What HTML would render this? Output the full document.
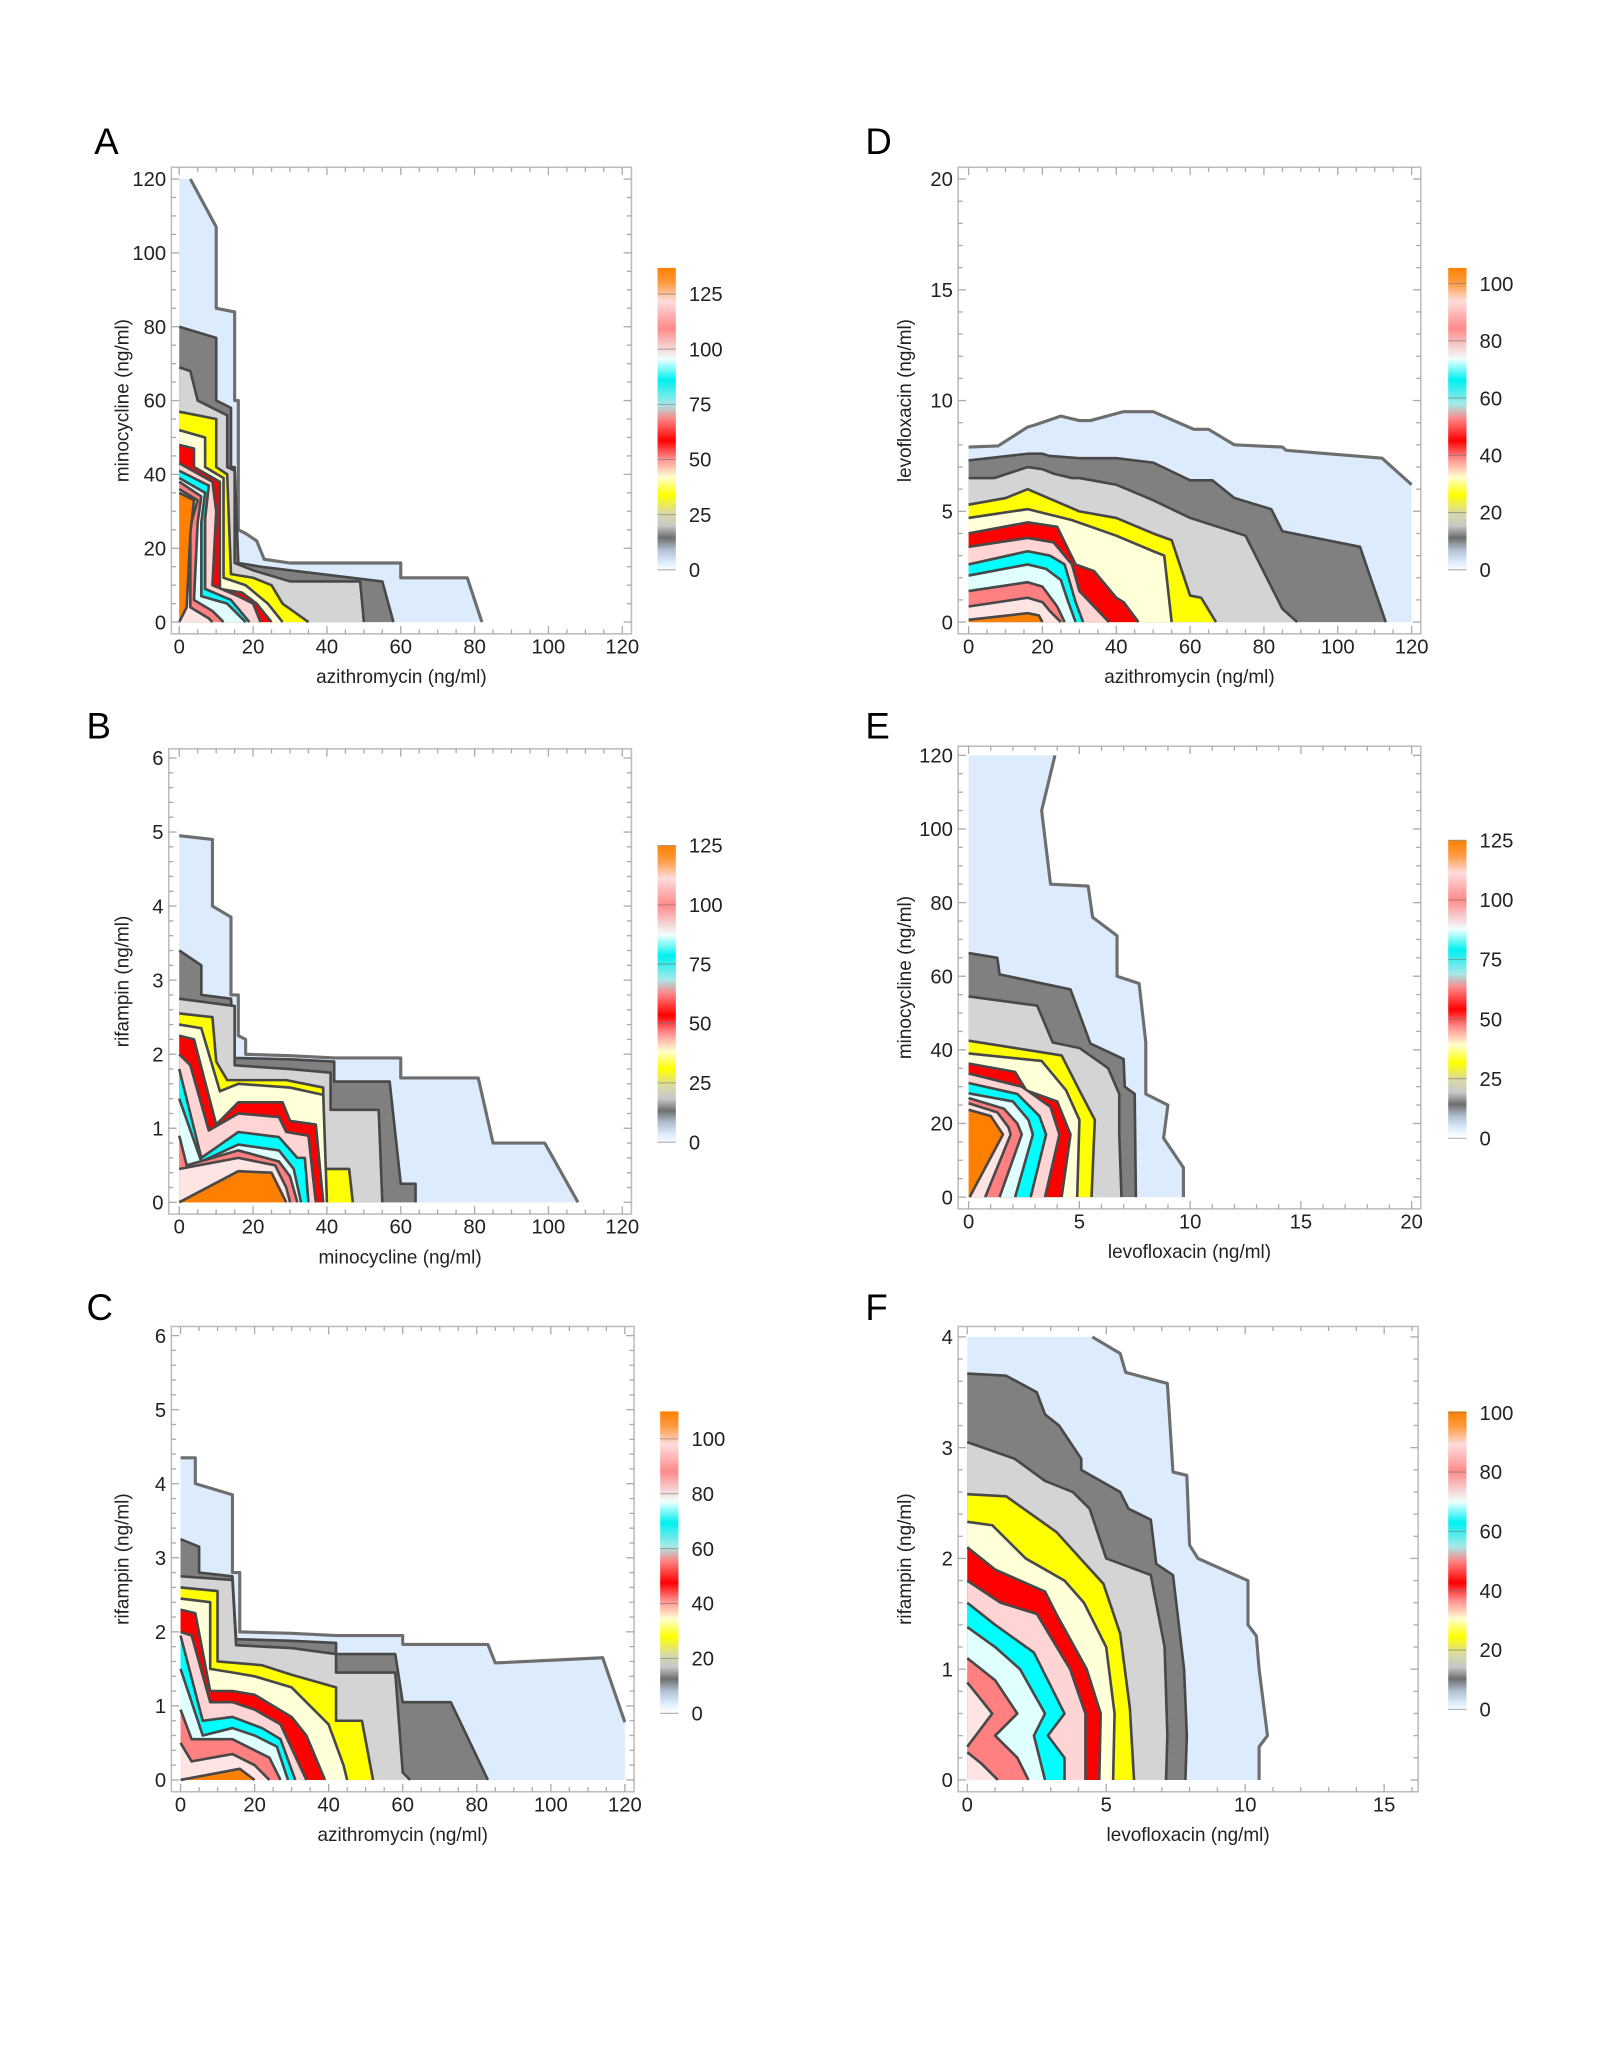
<!DOCTYPE html>
<html><head><meta charset="utf-8"><style>
html,body{margin:0;padding:0;background:#fff;}
svg{display:block;font-family:"Liberation Sans",Arial,sans-serif;}
</style></head><body>
<svg id="fig" xmlns="http://www.w3.org/2000/svg" width="1600" height="2057" viewBox="0 0 1224 1574">
<defs>
<linearGradient id="cbar" x1="0" y1="0" x2="0" y2="1">
<stop offset="0" stop-color="#ff8000"/><stop offset="0.05" stop-color="#ff9a40"/>
<stop offset="0.11" stop-color="#ffdcdc"/><stop offset="0.2" stop-color="#ff8a8a"/>
<stop offset="0.3" stop-color="#f0ffff"/><stop offset="0.37" stop-color="#00f0f0"/>
<stop offset="0.45" stop-color="#a8e8e8"/><stop offset="0.5" stop-color="#ff8080"/>
<stop offset="0.57" stop-color="#ff0000"/><stop offset="0.63" stop-color="#ff9090"/>
<stop offset="0.69" stop-color="#ffffd0"/><stop offset="0.75" stop-color="#ffff00"/>
<stop offset="0.81" stop-color="#d8d8a8"/><stop offset="0.85" stop-color="#c8c8c8"/>
<stop offset="0.89" stop-color="#6e6e6e"/><stop offset="0.93" stop-color="#b0c0d0"/>
<stop offset="0.97" stop-color="#dcecfc"/><stop offset="1" stop-color="#ffffff"/>
</linearGradient>
</defs>
</svg>
<script>
// ---- data ----
const levelColorsStd = ['#dcecfc','#808080','#d4d4d4','#ffff00','#ffffd8','#ff0000','#ffd4d4','#00ffff','#e0ffff','#ff8080','#ffe4e4','#ff8000'];
const levelColorsF = ['#dcecfc','#808080','#d4d4d4','#ffff00','#ffffd8','#ff0000','#ffd4d4','#00ffff','#e0ffff','#ff8080','#ffe4e4','#ffe4e4'];

const contoursA = [
 [[3,120],[10,107],[10,85],[15,84],[15,60],[16,60],[16,25],[18,24],[21,22],[23,17],[30,16],[60,16],[60,12],[78,12],[82,0]],
 [[0,80],[10,77],[10,60],[14,58],[14,42],[15,42],[16,16],[22,15],[30,14],[55,11],[58,0]],
 [[0,69],[3,68],[5,60],[13,56],[13,42],[15,41],[15,16],[20,14],[30,11],[49,11],[50,0]],
 [[0,57],[10,55],[10,42],[13,40],[14,13],[20,12],[25,10],[28,5],[35,0]],
 [[0,52],[7,50],[7,42],[12,39],[12,12],[18,10],[24,5],[28,0]],
 [[0,48],[4,47],[4,42],[11,38],[11,9],[17,8],[21,5],[25,0]],
 [[0,43],[9,38],[10,30],[9,10],[16,7],[20,5],[22,0]],
 [[0,41],[8,37],[7,28],[7,9],[14,6],[19,0]],
 [[0,39],[7,35],[6,27],[6,7],[13,5],[18,0]],
 [[0,38],[6,34],[5,27],[4,6],[9,3],[12,0]],
 [[0,36],[5,33],[3,26],[3,4],[8,1],[9,0]],
 [[0,35],[4,33],[3,24],[2,4],[0,0]]
];
const contoursB = [
 [[0,4.95],[9,4.9],[9,4.0],[14,3.85],[14,2.8],[16,2.8],[16,2.25],[18,2.2],[18,2.0],[30,1.98],[42,1.95],[60,1.95],[60,1.68],[81,1.68],[85,0.8],[99,0.8],[108,0]],
 [[0,3.4],[6,3.2],[6,2.8],[14,2.75],[15,1.95],[30,1.93],[42,1.9],[42,1.63],[57,1.63],[60,0.25],[64,0.25],[64,0]],
 [[0,2.75],[15,2.65],[15,1.85],[30,1.8],[41,1.75],[41,1.25],[54,1.25],[55,0]],
 [[0,2.55],[9,2.5],[10,1.9],[13,1.65],[29,1.65],[39,1.55],[39,0.45],[46,0.45],[47,0]],
 [[0,2.4],[6,2.35],[11,1.5],[16,1.6],[30,1.55],[39,1.45],[40,0]],
 [[0,2.25],[4,2.2],[10,1.05],[16,1.35],[28,1.35],[30,1.1],[37,1.05],[39,0]],
 [[0,2.0],[3,1.85],[8,0.97],[16,1.2],[27,1.15],[29,0.95],[35,0.9],[37,0]],
 [[0,1.8],[6,0.6],[16,0.95],[27,0.88],[32,0.6],[34,0.6],[35,0]],
 [[0,1.4],[6,0.55],[16,0.78],[27,0.7],[31,0.45],[33,0]],
 [[0,0.9],[2,0.5],[16,0.7],[27,0.55],[30,0.35],[32,0]],
 [[0,0.45],[16,0.6],[26,0.5],[29,0.2],[30,0]],
 [[0,0],[16,0.42],[25,0.4],[29,0]]
];
const contoursC = [
 [[0,4.35],[4,4.35],[4,4.0],[14,3.85],[14,2.8],[16,2.8],[16,2.0],[30,1.98],[42,1.95],[60,1.95],[60,1.83],[83,1.83],[85,1.58],[114,1.65],[120,0.78]],
 [[0,3.25],[5,3.15],[5,2.8],[14,2.75],[15,1.9],[30,1.88],[42,1.85],[42,1.7],[58,1.7],[60,1.05],[73,1.05],[83,0]],
 [[0,2.75],[14,2.7],[15,1.82],[30,1.78],[42,1.7],[42,1.45],[58,1.45],[60,0.1],[62,0]],
 [[0,2.6],[10,2.55],[10,1.6],[22,1.55],[30,1.42],[42,1.25],[42,0.8],[49,0.8],[52,0]],
 [[0,2.45],[8,2.4],[8,1.5],[14,1.45],[20,1.4],[30,1.25],[40,0.75],[44,0.2],[45,0]],
 [[0,2.3],[4,2.25],[8,1.2],[14,1.2],[20,1.15],[30,0.85],[34,0.6],[39,0]],
 [[0,2.0],[3,1.95],[8,1.05],[14,1.05],[20,0.95],[27,0.75],[34,0]],
 [[0,1.95],[6,0.8],[14,0.85],[22,0.7],[27,0.55],[31,0]],
 [[0,1.5],[6,0.6],[14,0.7],[20,0.6],[26,0.45],[29,0]],
 [[0,0.95],[3,0.55],[14,0.55],[20,0.4],[24,0.3],[27,0]],
 [[0,0.5],[3,0.25],[14,0.35],[20,0.2],[24,0]],
 [[0,0],[16,0.15],[20,0]]
];
const contoursD = [
 [[0,7.9],[8,7.95],[16,8.8],[18,8.9],[25,9.3],[30,9.1],[33,9.1],[42,9.5],[50,9.5],[61,8.7],[65,8.7],[72,8.0],[85,7.9],[86,7.75],[112,7.4],[120,6.2]],
 [[0,7.3],[16,7.6],[20,7.6],[22,7.5],[30,7.4],[40,7.4],[50,7.2],[60,6.4],[66,6.4],[72,5.6],[82,5.1],[85,4.1],[106,3.4],[113,0]],
 [[0,6.5],[7,6.5],[16,7.0],[20,6.9],[23,6.7],[28,6.5],[30,6.5],[40,6.2],[50,5.5],[60,4.7],[75,3.9],[85,0.6],[89,0]],
 [[0,5.3],[10,5.6],[16,6.0],[30,5.0],[40,4.7],[50,4.0],[55,3.7],[60,1.2],[63,1.1],[67,0]],
 [[0,4.7],[16,5.1],[28,4.6],[40,3.9],[50,3.2],[53,3.0],[55,0]],
 [[0,4.0],[16,4.5],[24,4.3],[29,2.6],[34,2.3],[40,1.1],[42,0.9],[46,0]],
 [[0,3.4],[16,3.8],[23,3.6],[28,2.6],[30,1.4],[38,0]],
 [[0,2.6],[16,3.2],[22,3.0],[26,2.6],[29,0.9],[31,0]],
 [[0,2.1],[16,2.6],[21,2.4],[25,1.9],[27,0.9],[29,0]],
 [[0,1.4],[16,1.8],[20,1.6],[24,0.7],[26,0]],
 [[0,0.7],[16,1.1],[20,0.9],[22,0.5],[25,0]],
 [[0,0.1],[16,0.4],[19,0.3],[20,0]]
];
const contoursE = [
 [[3.9,120],[3.3,105],[3.7,85],[5.4,84.5],[5.6,76],[6.7,71],[6.7,60],[7.7,58],[8.0,42],[8.0,28],[9.0,25],[8.8,16],[9.7,8],[9.7,0]],
 [[0,66.3],[1.3,65],[1.4,60.5],[4.6,56.4],[5.5,41.7],[7.0,37.5],[7.05,30],[7.5,28],[7.55,0]],
 [[0,54.5],[3.1,52],[3.8,42],[5.0,40.5],[6.3,35],[6.8,28],[6.8,17],[6.9,0]],
 [[0,42.5],[4.2,38.5],[5.0,29],[5.7,21],[5.55,0]],
 [[0,39],[3.3,37],[4.4,29],[5.0,21],[4.9,0]],
 [[0,36.3],[2.1,34],[2.6,29],[4.0,26],[4.6,17],[4.2,0]],
 [[0,33.6],[2.4,30],[3.7,24.5],[4.1,17],[3.45,0]],
 [[0,31],[2.2,28],[3.2,22],[3.5,17],[2.8,0]],
 [[0,28.2],[2.0,26],[2.7,21],[2.9,17],[2.1,0]],
 [[0,26.9],[1.6,24],[2.2,20],[2.4,17],[1.4,0]],
 [[0,25.5],[1.3,23],[1.8,19],[1.9,17],[0.75,0]],
 [[0,23.7],[1.0,22],[1.55,17],[0.05,0]]
];
const contoursF = [
 [[4.5,4.0],[5.5,3.85],[5.7,3.68],[7.2,3.58],[7.4,2.78],[7.9,2.75],[8.0,2.12],[8.3,2.0],[10.1,1.8],[10.1,1.4],[10.4,1.3],[10.5,1.0],[10.7,0.6],[10.8,0.4],[10.5,0.3],[10.5,0]],
 [[0,3.67],[1.4,3.65],[2.5,3.5],[2.8,3.3],[3.3,3.2],[4.1,2.9],[4.1,2.8],[5.5,2.6],[5.8,2.45],[6.6,2.35],[6.8,1.95],[7.4,1.85],[7.8,1.0],[7.9,0.4],[7.85,0]],
 [[0,3.05],[1.7,2.9],[2.8,2.7],[3.8,2.6],[4.4,2.45],[5.0,2.0],[6.6,1.85],[7.1,1.2],[7.2,0.4],[7.15,0]],
 [[0,2.58],[1.4,2.56],[3.2,2.24],[4.9,1.77],[5.5,1.32],[5.85,0.65],[6.0,0]],
 [[0,2.33],[0.9,2.3],[2.1,2.0],[3.5,1.8],[4.2,1.6],[5.0,1.2],[5.3,0.6],[5.25,0]],
 [[0,2.1],[1.0,1.9],[2.8,1.7],[3.2,1.5],[4.3,1.0],[4.8,0.6],[4.75,0]],
 [[0,1.8],[1.2,1.6],[2.5,1.5],[3.7,1.0],[4.25,0.6],[4.25,0]],
 [[0,1.6],[1.0,1.4],[2.4,1.15],[3.5,0.6],[2.9,0.4],[3.5,0.2],[3.5,0]],
 [[0,1.38],[1.0,1.2],[1.9,1.0],[2.8,0.6],[2.4,0.4],[2.8,0]],
 [[0,1.1],[1.0,0.9],[1.8,0.6],[1.0,0.4],[1.8,0.2],[2.2,0]],
 [[0,0.88],[0.9,0.6],[0,0.3]],
 [[0,0.25],[0.5,0.15],[1.1,0]]
];

const ticksX120 = [0,20,40,60,80,100,120];
const ticksY120 = [0,20,40,60,80,100,120];
const ticksY6 = [0,1,2,3,4,5,6];
const ticksY20 = [0,5,10,15,20];
const ticksX20 = [0,5,10,15,20];
const ticksX15 = [0,5,10,15];
const ticksY4 = [0,1,2,3,4];
const cbarA = [0,25,50,75,100,125];
const cbarB = [0,25,50,75,100,125];
const cbarC = [0,20,40,60,80,100];
const cbarD = [0,20,40,60,80,100];
const cbarE = [0,25,50,75,100,125];
const cbarF = [0,20,40,60,80,100];

// ---- layout (display coords in viewBox) ----
const panels = [
 {id:'a', letter:'A', lx:72, ly:118, frame:[131,128,483,485], xd:[0,120], xp:[137,476], yd:[0,120], yp:[476,137], xt:ticksX120, xm:5, yt:ticksY120, ym:5, contours:contoursA, colors:levelColorsStd, xlabel:'azithromycin (ng/ml)', ylabel:'minocycline (ng/ml)', yTitleX:98, cb:[503,205,517,437], cbv:cbarA, cbp:[436,225]},
 {id:'b', letter:'B', lx:66, ly:565, frame:[129,573,483,929], xd:[0,120], xp:[137,476], yd:[0,6], yp:[920,580], xt:ticksX120, xm:5, yt:ticksY6, ym:0.2, contours:contoursB, colors:levelColorsStd, xlabel:'minocycline (ng/ml)', ylabel:'rifampin (ng/ml)', yTitleX:98, cb:[503,647,517,875], cbv:cbarB, cbp:[874,647]},
 {id:'c', letter:'C', lx:66, ly:1010, frame:[131,1015,485,1371], xd:[0,120], xp:[138,478], yd:[0,6], yp:[1362,1022], xt:ticksX120, xm:5, yt:ticksY6, ym:0.2, contours:contoursC, colors:levelColorsStd, xlabel:'azithromycin (ng/ml)', ylabel:'rifampin (ng/ml)', yTitleX:98, cb:[505,1080,519,1310], cbv:cbarC, cbp:[1311,1101]},
 {id:'d', letter:'D', lx:662, ly:118, frame:[733,128,1087,485], xd:[0,120], xp:[741,1080], yd:[0,20], yp:[476,137], xt:ticksX120, xm:5, yt:ticksY20, ym:1, contours:contoursD, colors:levelColorsStd, xlabel:'azithromycin (ng/ml)', ylabel:'levofloxacin (ng/ml)', yTitleX:697, cb:[1108,205,1122,437], cbv:cbarD, cbp:[436,217]},
 {id:'e', letter:'E', lx:662, ly:565, frame:[733,571,1087,925], xd:[0,20], xp:[741,1080], yd:[0,120], yp:[916,578], xt:ticksX20, xm:1, yt:ticksY120, ym:5, contours:contoursE, colors:levelColorsStd, xlabel:'levofloxacin (ng/ml)', ylabel:'minocycline (ng/ml)', yTitleX:697, cb:[1108,643,1122,870], cbv:cbarE, cbp:[871,643]},
 {id:'f', letter:'F', lx:662, ly:1010, frame:[733,1015,1085,1371], xd:[0,15], xp:[740,1059], yd:[0,4], yp:[1362,1023], xt:ticksX15, xm:1, yt:ticksY4, ym:0.2, contours:contoursF, colors:levelColorsF, xlabel:'levofloxacin (ng/ml)', ylabel:'rifampin (ng/ml)', yTitleX:697, cb:[1108,1080,1122,1310], cbv:cbarF, cbp:[1308,1081]}
];

const NS='http://www.w3.org/2000/svg';
const svg=document.getElementById('fig');
function mk(tag,attrs,parent){const e=document.createElementNS(NS,tag);for(const k in attrs)e.setAttribute(k,attrs[k]);(parent||svg).appendChild(e);return e;}

panels.forEach(p=>{
  const g=mk('g',{});
  
  
  const sx=v=>p.xp[0]+(v-p.xd[0])/(p.xd[1]-p.xd[0])*(p.xp[1]-p.xp[0]);
  const sy=v=>p.yp[0]+(v-p.yd[0])/(p.yd[1]-p.yd[0])*(p.yp[1]-p.yp[0]);
  const [fx0,fy0,fx1,fy1]=p.frame;

  const lt=mk('text',{x:p.lx,y:p.ly,'font-size':28,fill:'#000'},g);
  lt.textContent=p.letter;
  
  

  p.contours.forEach((pts,i)=>{
    const first=pts[0], last=pts[pts.length-1];
    const fill=[[p.xd[0],first[1]]].concat(pts,[[last[0],p.yd[0]],[p.xd[0],p.yd[0]]]);
    const poly=mk('polygon',{points:fill.map(q=>sx(q[0]).toFixed(1)+','+sy(q[1]).toFixed(1)).join(' '),fill:p.colors[i],stroke:'none'},g);
    
    
    const line=mk('polyline',{points:pts.map(q=>sx(q[0]).toFixed(1)+','+sy(q[1]).toFixed(1)).join(' '),fill:'none',stroke:i===0?'#6e6e6e':'#484848','stroke-width':i===0?2.4:2,'stroke-linejoin':'round'},g);
    
    
  });

  const fr=mk('rect',{x:fx0,y:fy0,width:fx1-fx0,height:fy1-fy0,fill:'none',stroke:'#bdbdbd','stroke-width':1.2},g);
  
  

  for(let v=p.xd[0]; v<=p.xd[1]+1e-9 && sx(v)<=fx1; v+=p.xm){
    const X=sx(v), major=p.xt.some(t=>Math.abs(t-v)<1e-6), L=major?6:3.5;
    mk('line',{x1:X,y1:fy1,x2:X,y2:fy1-L,stroke:'#aaa','stroke-width':1},g);
    mk('line',{x1:X,y1:fy0,x2:X,y2:fy0+L,stroke:'#aaa','stroke-width':1},g);
  }
  if(p.id==='f'){for(let v=16; sx(v)<fx1; v+=1){const X=sx(v);mk('line',{x1:X,y1:fy1,x2:X,y2:fy1-3.5,stroke:'#aaa'},g);mk('line',{x1:X,y1:fy0,x2:X,y2:fy0+3.5,stroke:'#aaa'},g);}}
  for(let v=p.yd[0]; v<=p.yd[1]+1e-9; v+=p.ym){
    const Y=sy(v), major=p.yt.some(t=>Math.abs(t-v)<1e-6), L=major?6:3.5;
    mk('line',{x1:fx0,y1:Y,x2:fx0+L,y2:Y,stroke:'#aaa','stroke-width':1},g);
    mk('line',{x1:fx1,y1:Y,x2:fx1-L,y2:Y,stroke:'#aaa','stroke-width':1},g);
  }
  p.xt.forEach(t=>{
    const tx=mk('text',{x:sx(t),y:fy1+15,'font-size':15.5,'text-anchor':'middle',fill:'#222'},g);
    tx.textContent=t;
    
    
  });
  p.yt.forEach(t=>{
    const ty=mk('text',{x:fx0-4,y:sy(t)+5.5,'font-size':15.5,'text-anchor':'end',fill:'#222'},g);
    ty.textContent=t;
    
    
  });
  const xl=mk('text',{x:(fx0+fx1)/2,y:fy1+28,'font-size':14.5,'text-anchor':'middle',fill:'#222','dominant-baseline':'hanging'},g);
  xl.textContent=p.xlabel;
  
  
  const cy=(fy0+fy1)/2;
  const yl=mk('text',{x:p.yTitleX,y:cy,'font-size':14.5,'text-anchor':'middle',fill:'#222',transform:'rotate(-90 '+p.yTitleX+' '+cy+')'},g);
  yl.textContent=p.ylabel;
  
  

  const [cx0,cy0,cx1,cy1]=p.cb;
  const cb=mk('rect',{x:cx0,y:cy0,width:cx1-cx0,height:cy1-cy0,fill:'url(#cbar)'},g);
  
  
  const vmin=p.cbv[0], vmax=p.cbv[p.cbv.length-1];
  const cpy=v=>p.cbp[0]+(v-vmin)/(vmax-vmin)*(p.cbp[1]-p.cbp[0]);
  p.cbv.forEach(v=>{
    const Y=cpy(v);
    mk('line',{x1:cx0,y1:Y,x2:cx1,y2:Y,stroke:'#777','stroke-width':0.8,opacity:0.6},g);
    const ct=mk('text',{x:cx1+10,y:Y+5.5,'font-size':15.5,fill:'#222'},g);
    ct.textContent=v;
    
    
  });
});
</script>
</body></html>
